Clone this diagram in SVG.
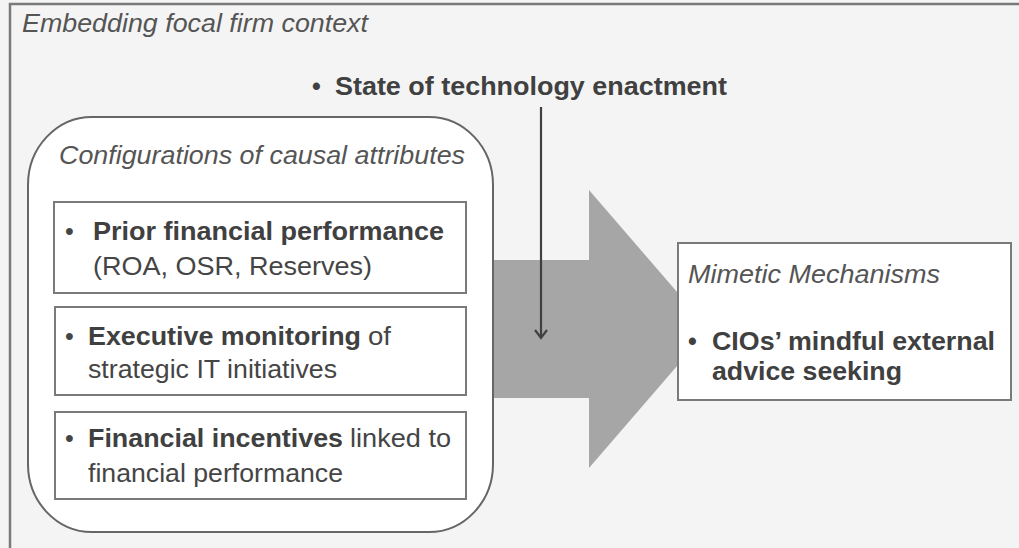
<svg xmlns="http://www.w3.org/2000/svg" width="1019" height="548" viewBox="0 0 1019 548">
<style>
text{font-family:"Liberation Sans",Arial,sans-serif;font-size:25px;fill:#454545}
.it{font-style:italic;fill:#555}
.b{font-weight:bold;fill:#404040}
.box{fill:#fff;stroke:#7a7a7a;stroke-width:2}
</style>
<defs>
<marker id="vhead" markerWidth="14" markerHeight="14" refX="12" refY="7" orient="auto" markerUnits="userSpaceOnUse" viewBox="0 0 14 14">
<path d="M4,1 L12,7 L4,13" fill="none" stroke="#404040" stroke-width="2.2"/>
</marker>
</defs>
<rect x="0" y="0" width="1019" height="548" fill="#f4f4f4"/>
<g id="context">
<rect x="10" y="4" width="1030" height="560" fill="#f4f4f4" stroke="#7a7a7a" stroke-width="2.5"/>
<text class="it" x="22" y="32" textLength="346" lengthAdjust="spacingAndGlyphs">Embedding focal firm context</text>
</g>
<g id="connectors">
<path d="M470,260 L589,260 L589,190 L709,329 L589,468 L589,398 L470,398 Z" fill="#a6a6a6"/>
<line x1="541" y1="107" x2="541" y2="338" stroke="#404040" stroke-width="2.2" marker-end="url(#vhead)"/>
</g>
<g id="technology">
<text class="b" x="312" y="95">•</text>
<text class="b" x="335" y="95" textLength="392" lengthAdjust="spacingAndGlyphs">State of technology enactment</text>
</g>
<g id="configurations">
<rect x="28" y="117" width="465" height="415" rx="64" ry="68" fill="#fff" stroke="#666" stroke-width="2"/>
<text class="it" x="59" y="164" textLength="406" lengthAdjust="spacingAndGlyphs">Configurations of causal attributes</text>
</g>
<g id="prior">
<rect class="box" x="54" y="202" width="412" height="91"/>
<text x="65" y="240">•</text>
<text class="b" x="93" y="240" textLength="351" lengthAdjust="spacingAndGlyphs">Prior financial performance</text>
<text x="93" y="275" textLength="279" lengthAdjust="spacingAndGlyphs">(ROA, OSR, Reserves)</text>
</g>
<g id="monitoring">
<rect class="box" x="55" y="307" width="411" height="88"/>
<text x="65" y="345">•</text>
<text class="b" x="88" y="345" textLength="273" lengthAdjust="spacingAndGlyphs">Executive monitoring</text>
<text x="368" y="345" textLength="23" lengthAdjust="spacingAndGlyphs">of</text>
<text x="88" y="378" textLength="249" lengthAdjust="spacingAndGlyphs">strategic IT initiatives</text>
</g>
<g id="incentives">
<rect class="box" x="55" y="412" width="411" height="87"/>
<text x="65" y="447">•</text>
<text class="b" x="88" y="447" textLength="255" lengthAdjust="spacingAndGlyphs">Financial incentives</text>
<text x="350" y="447" textLength="101" lengthAdjust="spacingAndGlyphs">linked to</text>
<text x="88" y="482" textLength="255" lengthAdjust="spacingAndGlyphs">financial performance</text>
</g>
<g id="mimetic">
<rect class="box" x="678" y="243" width="333" height="157"/>
<text class="it" x="688" y="283" textLength="252" lengthAdjust="spacingAndGlyphs">Mimetic Mechanisms</text>
<text class="b" x="688" y="350">•</text>
<text class="b" x="712" y="350" textLength="283" lengthAdjust="spacingAndGlyphs">CIOs’ mindful external</text>
<text class="b" x="712" y="380" textLength="190" lengthAdjust="spacingAndGlyphs">advice seeking</text>
</g>
</svg>
